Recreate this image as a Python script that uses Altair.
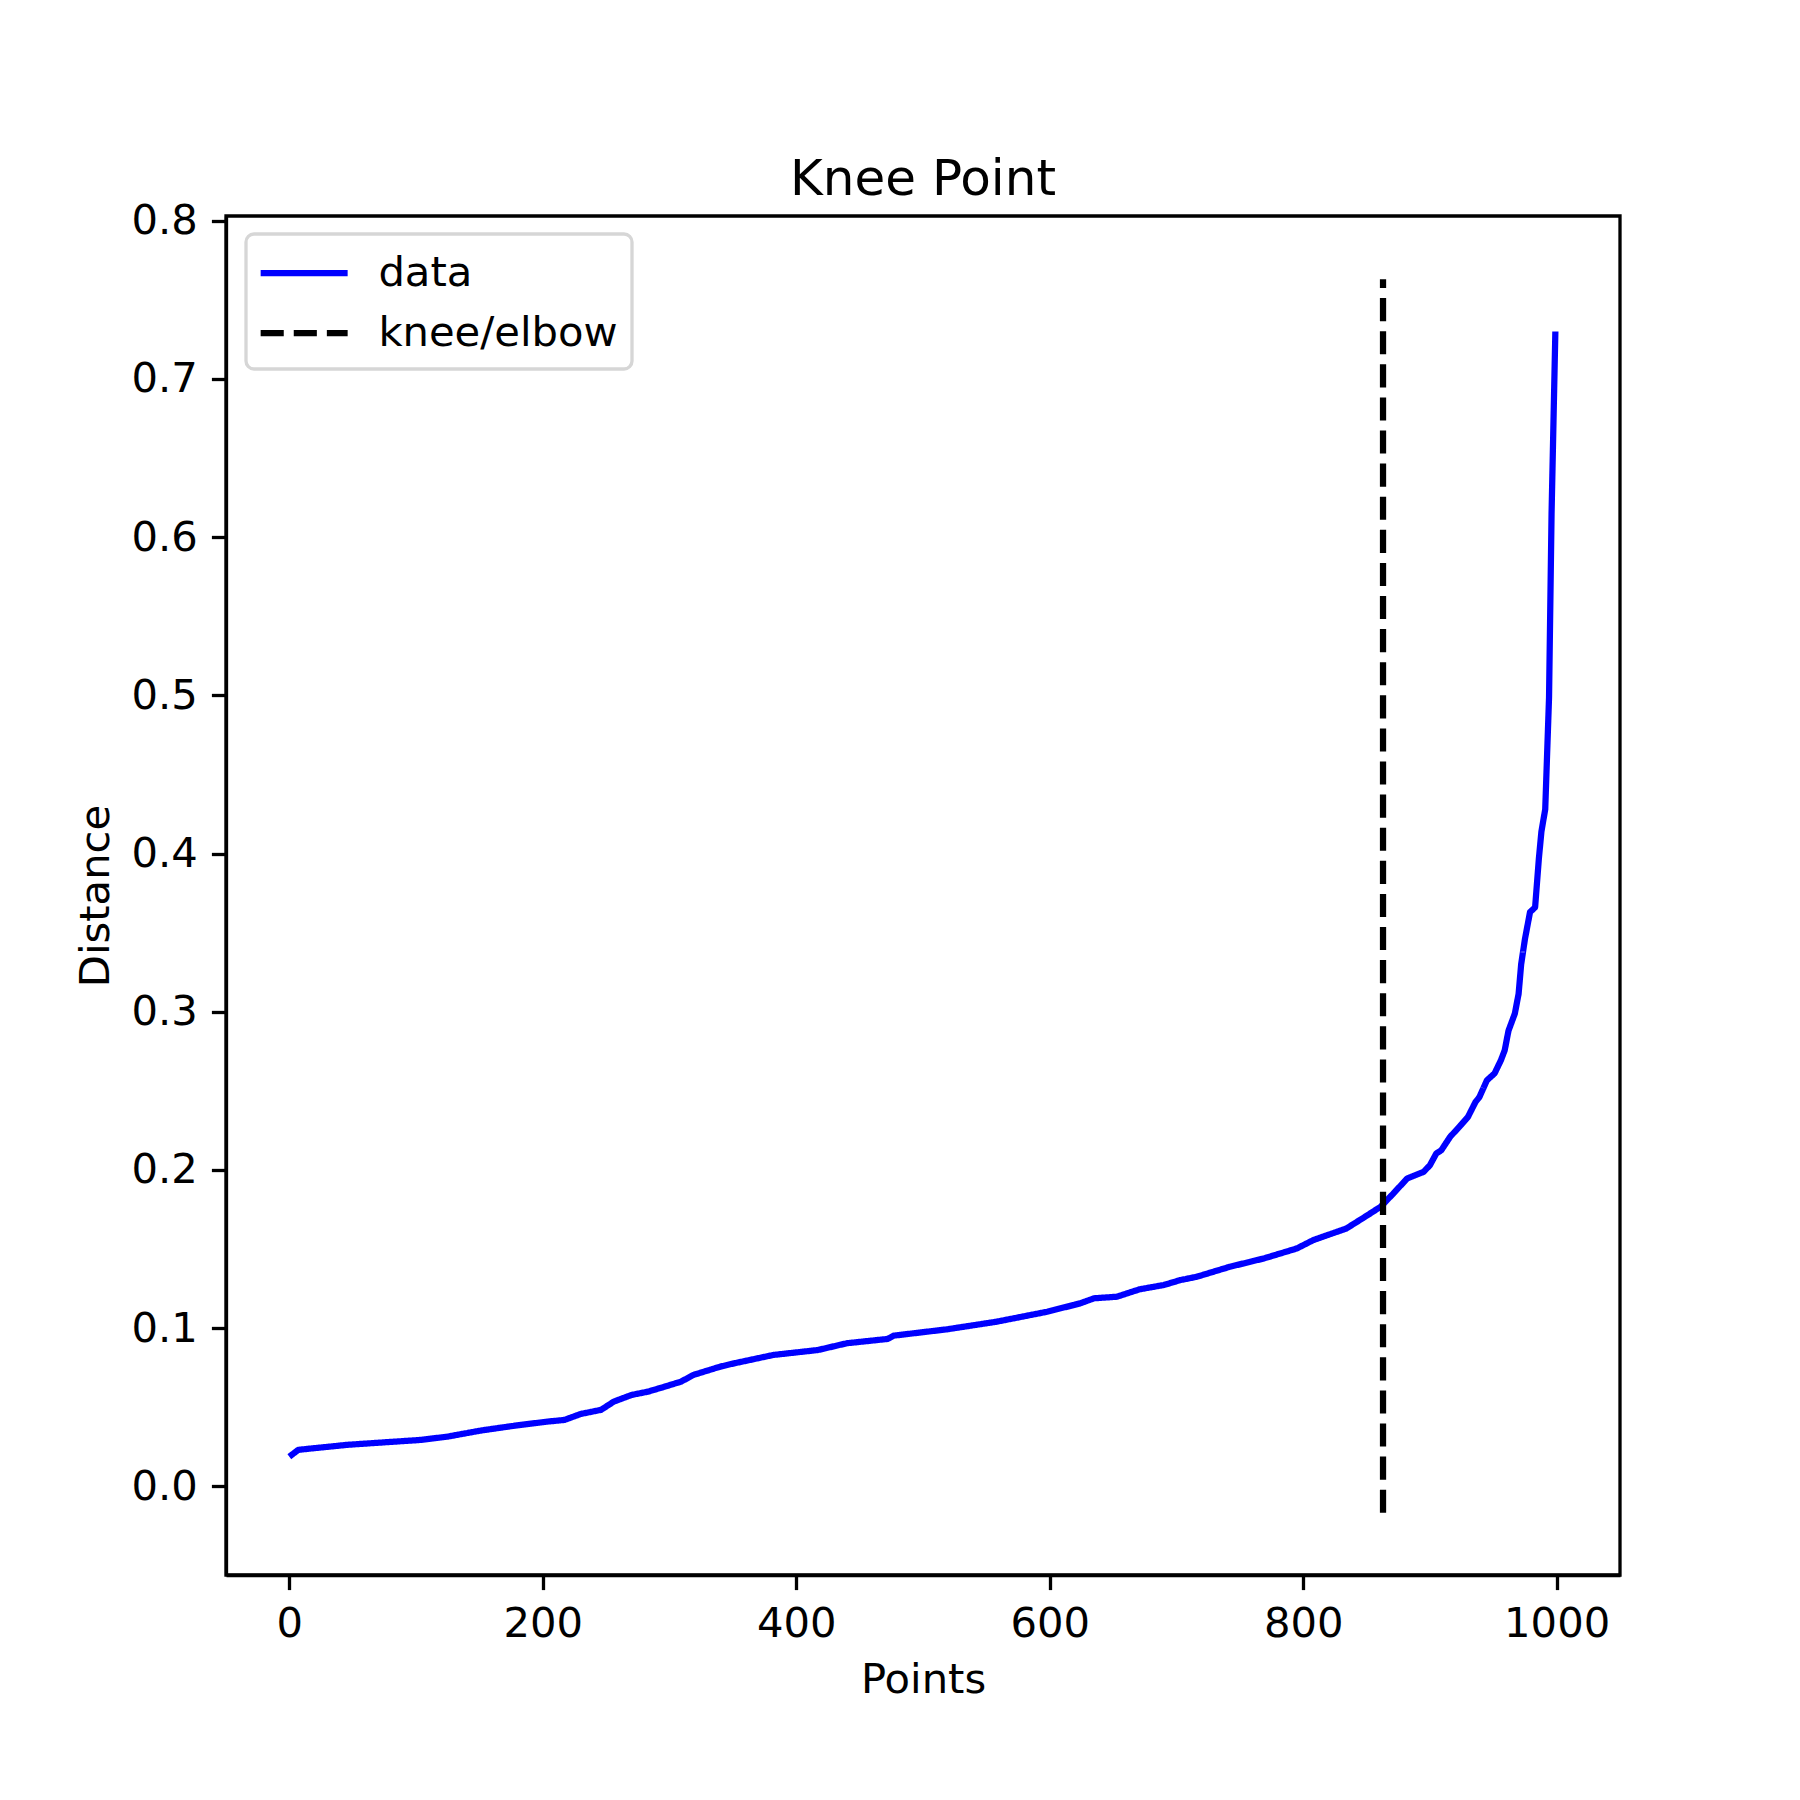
import altair as alt
import pandas as pd

# k-distance curve (x = point index, y = distance)
points_x = [0, 7, 20, 46, 72, 104, 125, 151, 177, 204, 217, 230, 246, 256, 270,
            283, 296, 309, 319, 340, 351, 382, 417, 440, 472, 477, 519, 558, 598,
            624, 635, 653, 671, 690, 703, 716, 742, 769, 795, 808, 834, 848, 861,
            871, 882, 895, 900, 905, 909, 916, 924, 930, 936, 939, 945, 951, 956,
            959, 962, 967, 970, 972, 975, 979, 983, 986, 988, 991, 994, 996, 999]
distance = [0.0188, 0.0231, 0.0242, 0.0263, 0.0277, 0.0294, 0.0315, 0.0353, 0.0383,
            0.041, 0.042, 0.0458, 0.0484, 0.0536, 0.0578, 0.0599, 0.063, 0.0662,
            0.0705, 0.0757, 0.0778, 0.0831, 0.0862, 0.0905, 0.0932, 0.0953, 0.0993,
            0.1041, 0.1104, 0.1157, 0.1189, 0.1199, 0.1246, 0.1273, 0.1304, 0.1325,
            0.1388, 0.1441, 0.1504, 0.1557, 0.163, 0.170, 0.1767, 0.185, 0.1946,
            0.1988, 0.203, 0.2104, 0.2125, 0.221, 0.228, 0.2335, 0.243, 0.246,
            0.2567, 0.261, 0.2693, 0.2756, 0.288, 0.2988, 0.3114, 0.33, 0.346,
            0.363, 0.366, 0.397, 0.414, 0.428, 0.4985, 0.615, 0.73]

knee_x = [863]
knee_ymin = [-0.0167]
knee_ymax = [0.763]

series_names = ["data", "knee/elbow"]
series_colors = ["#0000ff", "#000000"]

x_ticks = [0, 200, 400, 600, 800, 1000]
y_ticks = [0.0, 0.1, 0.2, 0.3, 0.4, 0.5, 0.6, 0.7, 0.8]

curve_df = pd.DataFrame({"x": points_x, "y": distance, "series": "data"})
knee_df = pd.DataFrame({"x": knee_x, "y": knee_ymin, "y2": knee_ymax,
                        "series": "knee/elbow"})

FONT = "DejaVu Sans"

x_scale = alt.Scale(domain=[-50, 1050], nice=False, zero=False)
y_scale = alt.Scale(domain=[-0.056, 0.803], nice=False, zero=False)

color_enc = alt.Color(
    "series:N",
    title=None,
    scale=alt.Scale(domain=series_names, range=series_colors),
    legend=alt.Legend(
        orient="none", legendX=20, legendY=18,
        fillColor="white", strokeColor="#d6d6d6",
        cornerRadius=8, padding=14,
        symbolType="M-1,0H3", symbolSize=1892, symbolStrokeWidth=6.25,
        symbolOffset=-2.6,
        labelFont=FONT, labelFontSize=41.7, labelColor="black",
        labelOffset=71, labelLimit=1000, rowPadding=13,
    ),
)
dash_enc = alt.StrokeDash(
    "series:N",
    title=None,
    scale=alt.Scale(domain=series_names, range=[[1, 0], [23.1, 10]]),
)

x_axis = alt.Axis(values=x_ticks, format="d", title="Points")
y_axis = alt.Axis(values=y_ticks, format=".1f", title="Distance")

line = alt.Chart(curve_df).mark_line(strokeWidth=6.25, strokeJoin="round").encode(
    x=alt.X("x:Q", scale=x_scale, axis=x_axis),
    y=alt.Y("y:Q", scale=y_scale, axis=y_axis),
    color=color_enc,
    strokeDash=dash_enc,
)

rule = alt.Chart(knee_df).mark_rule(strokeWidth=6.25).encode(
    x=alt.X("x:Q", scale=x_scale),
    y=alt.Y("y:Q", scale=y_scale),
    y2="y2:Q",
    color=color_enc,
    strokeDash=dash_enc,
)

chart = alt.layer(line, rule).properties(
    width=1394,
    height=1359,
    autosize=alt.AutoSizeParams(type="none"),
    padding={"left": 218, "top": 208, "right": 172, "bottom": 209},
    title=alt.Title("Knee Point", font=FONT, fontSize=50, fontWeight="normal",
                    color="black", anchor="middle", frame="group",
                    baseline="alphabetic", offset=11, dy=55),
).configure_view(
    stroke="black", strokeWidth=3.3
).configure_legend(
    strokeWidth=3.3,
).configure_axis(
    grid=False,
    domainColor="black", domainWidth=3.3,
    tickColor="black", tickWidth=3.3, tickSize=14.6,
    labelFont=FONT, labelFontSize=41.7, labelColor="black", labelPadding=14,
    titleFont=FONT, titleFontSize=41.7, titleFontWeight="normal", titleColor="black",
).configure_axisX(
    titlePadding=14,
).configure_axisY(
    titlePadding=14,
)

chart.save("out.html", embed_options={"renderer": "svg", "actions": False})
